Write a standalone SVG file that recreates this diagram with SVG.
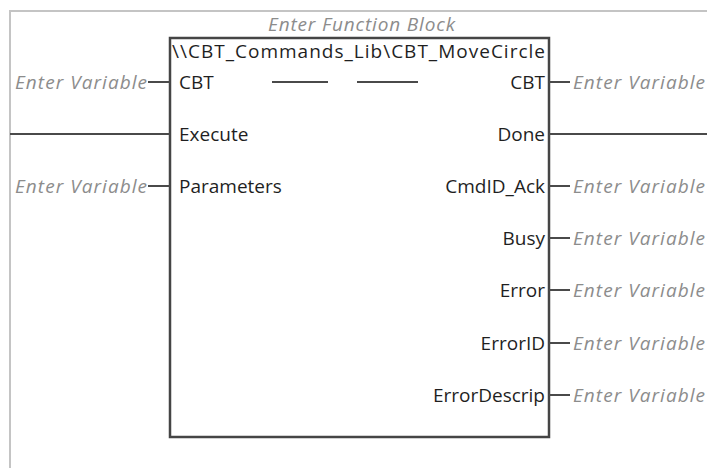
<svg xmlns="http://www.w3.org/2000/svg" width="707" height="468" viewBox="0 0 707 468">
  <style>
    .frame { stroke: #c4c4c4; stroke-width: 2; fill: none; }
    .wire { stroke: #4a4a4a; stroke-width: 2; fill: none; }
    .box { stroke: #454545; stroke-width: 2.5; fill: #ffffff; }
    .pin { font-family: "Open Sans", "Noto Sans", sans-serif; font-size: 19px; fill: #1f1f1f; }
    .hint { font-family: "Open Sans", "Noto Sans", sans-serif; font-size: 19px; font-style: italic; fill: #8c8c8c; }
    .r { text-anchor: end; }
  </style>
  <rect width="707" height="468" fill="#ffffff"/>

  <!-- rung frame -->
  <g id="frame">
    <path class="frame" d="M10,468 V11 H707"/>
  </g>

  <!-- function block -->
  <g id="fb">
    <text class="hint" x="268" y="31" textLength="187" lengthAdjust="spacing">Enter Function Block</text>
    <rect class="box" x="170" y="38" width="379" height="399"/>
    <text class="pin" x="172" y="58" textLength="373" lengthAdjust="spacing">\\CBT_Commands_Lib\CBT_MoveCircle</text>
    <text class="pin" x="179" y="89">CBT</text>
    <text class="pin" x="179" y="141">Execute</text>
    <text class="pin" x="179" y="193">Parameters</text>
    <text class="pin r" x="545" y="89">CBT</text>
    <text class="pin r" x="545" y="141">Done</text>
    <text class="pin r" x="545" y="193">CmdID_Ack</text>
    <text class="pin r" x="545" y="245">Busy</text>
    <text class="pin r" x="545" y="297">Error</text>
    <text class="pin r" x="545" y="350">ErrorID</text>
    <text class="pin r" x="545" y="402">ErrorDescrip</text>
  </g>

  <!-- variable placeholders -->
  <g id="in-vars">
    <text class="hint" x="15" y="89" textLength="132" lengthAdjust="spacing">Enter Variable</text>
    <text class="hint" x="15" y="193" textLength="132" lengthAdjust="spacing">Enter Variable</text>
  </g>
  <g id="out-vars">
    <text class="hint" x="573" y="89" textLength="132" lengthAdjust="spacing">Enter Variable</text>
    <text class="hint" x="573" y="193" textLength="132" lengthAdjust="spacing">Enter Variable</text>
    <text class="hint" x="573" y="245" textLength="132" lengthAdjust="spacing">Enter Variable</text>
    <text class="hint" x="573" y="297" textLength="132" lengthAdjust="spacing">Enter Variable</text>
    <text class="hint" x="573" y="350" textLength="132" lengthAdjust="spacing">Enter Variable</text>
    <text class="hint" x="573" y="402" textLength="132" lengthAdjust="spacing">Enter Variable</text>
  </g>

  <!-- connectors -->
  <g id="connectors">
    <path class="wire" d="M148,82 H170"/>
    <path class="wire" d="M10,134 H170"/>
    <path class="wire" d="M148,186 H170"/>
    <path class="wire" d="M272,82 H328 M357,82 H418"/>
    <path class="wire" d="M549,82 H570"/>
    <path class="wire" d="M549,134 H707"/>
    <path class="wire" d="M549,186 H570"/>
    <path class="wire" d="M549,238 H570"/>
    <path class="wire" d="M549,290 H570"/>
    <path class="wire" d="M549,343 H570"/>
    <path class="wire" d="M549,395 H570"/>
  </g>
</svg>
